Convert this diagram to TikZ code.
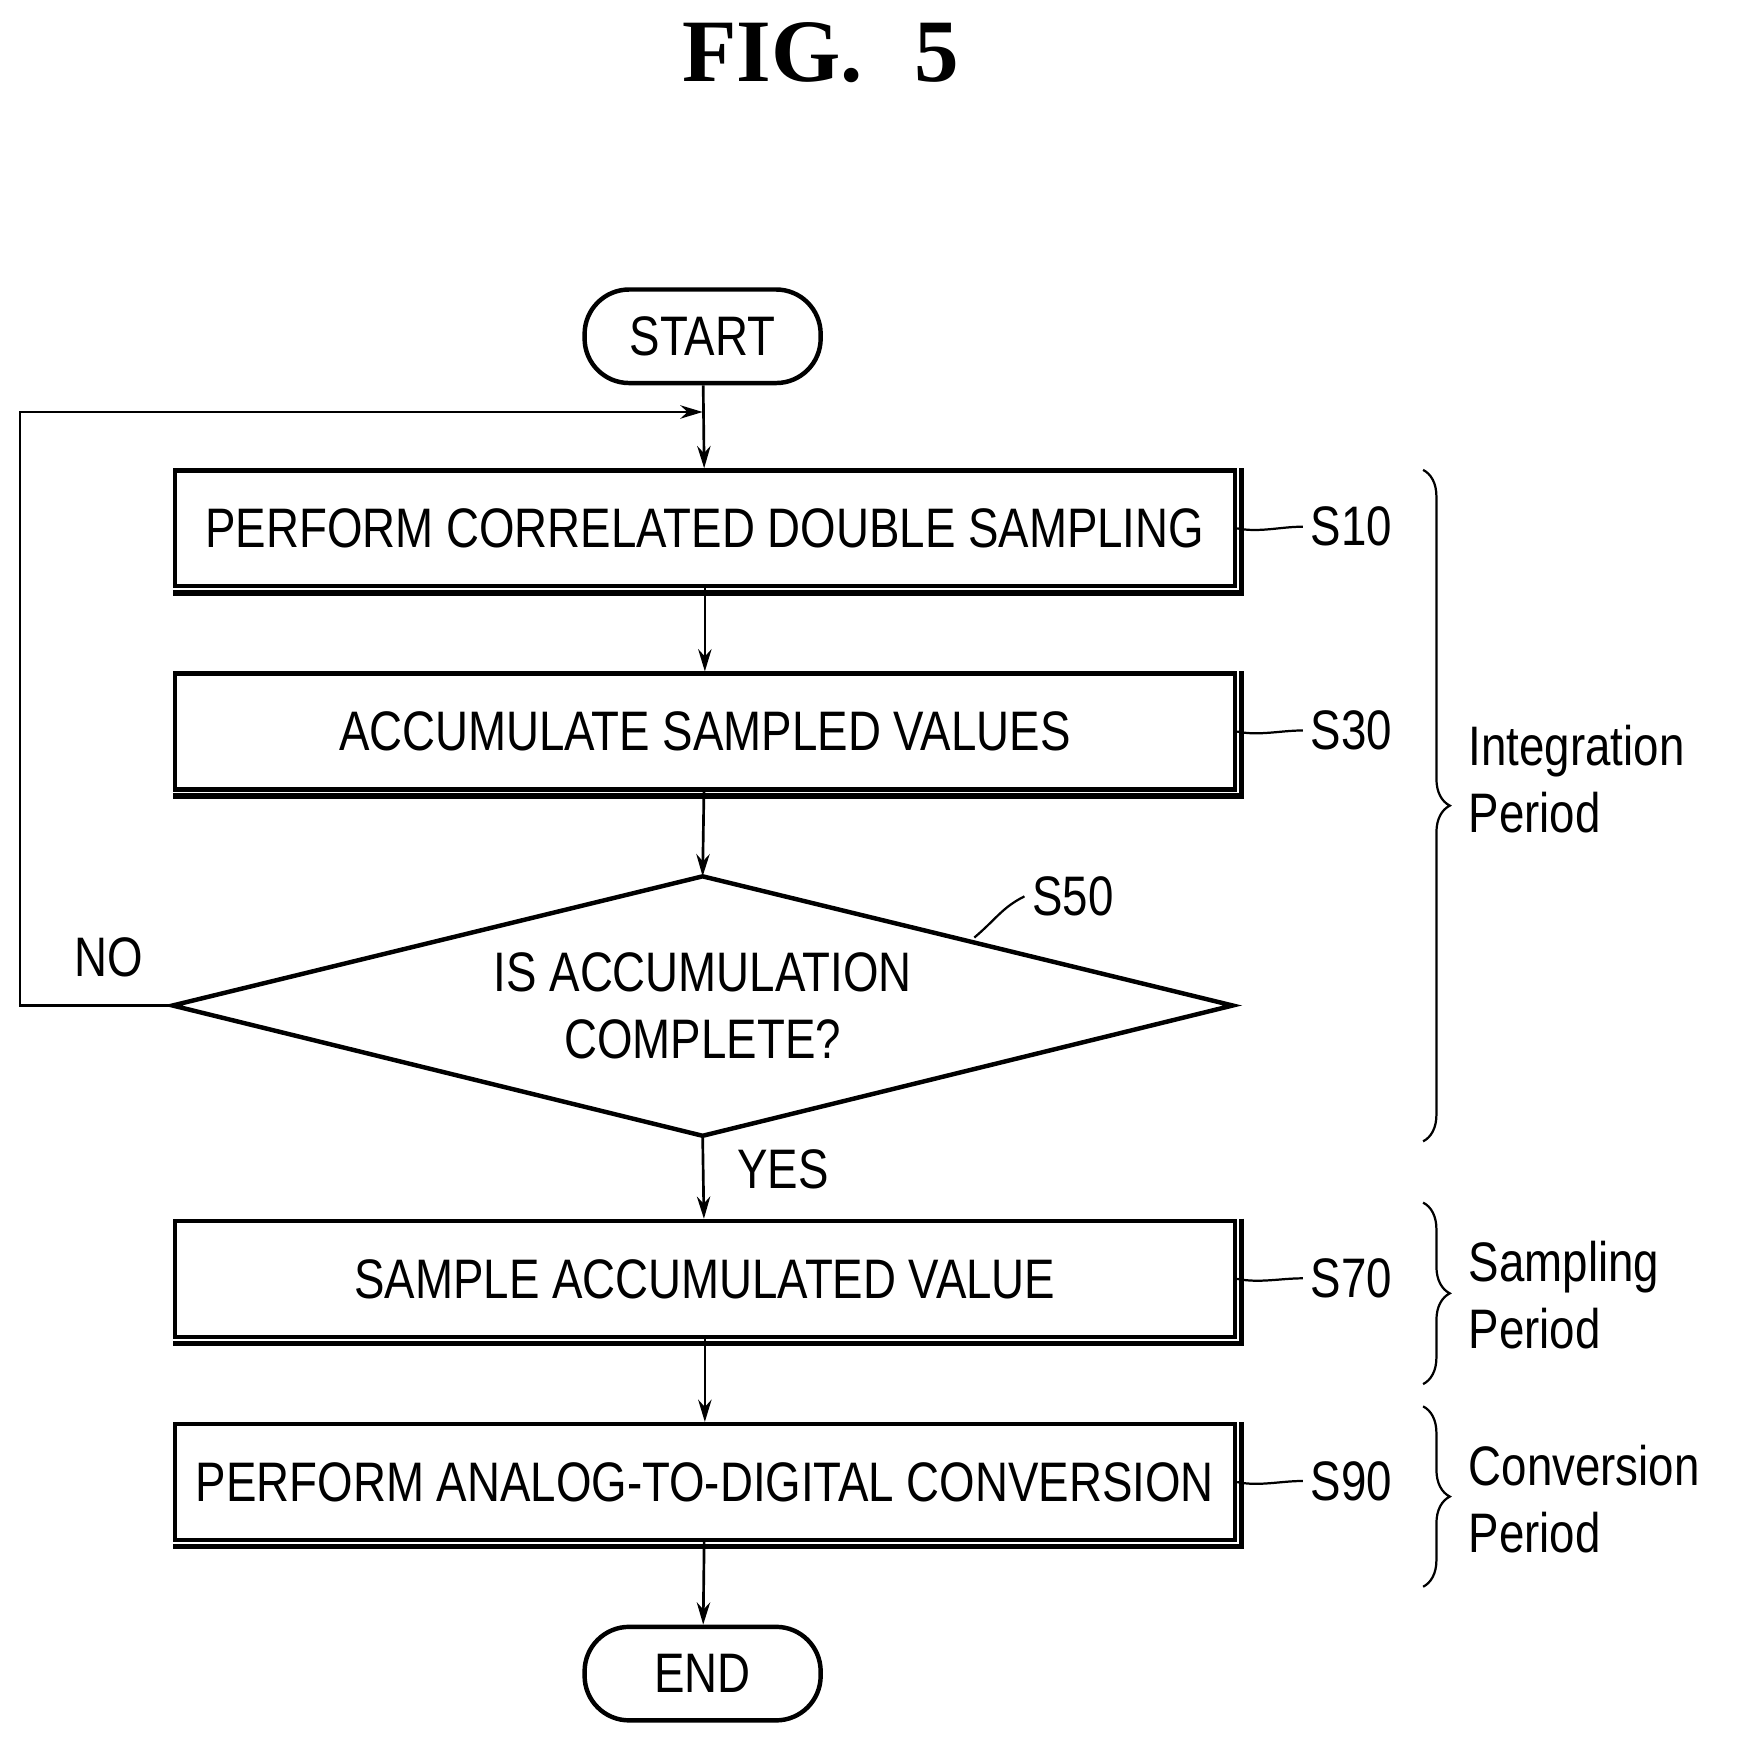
\documentclass[tikz,border=0pt]{standalone}
\usepackage{fontspec}
\setmainfont{Liberation Sans}[FakeStretch=0.82]
\newfontfamily\titlefont{Liberation Serif}
\usetikzlibrary{shapes.geometric,arrows.meta,decorations.pathreplacing}
\begin{document}
\begin{tikzpicture}[x=0.5pt,y=-0.5pt,
  txt/.style={font=\fontsize{25}{30}\selectfont},
  lab/.style={font=\fontsize{25}{30}\selectfont,anchor=west},
  line/.style={line width=1.2pt},
  arr/.style={line width=1.2pt,-{Stealth[length=10pt,width=6pt]}},
  box/.style={draw,line width=2pt,minimum width=476pt,minimum height=52pt,txt},
  term/.style={draw,line width=2pt,rounded corners=20pt,minimum width=106pt,minimum height=42pt,txt},
  lead/.style={line width=1pt}]
\useasboundingbox (0,0) rectangle (1560,1577);
\node[font=\titlefont\bfseries\fontsize{40}{44}\selectfont] (title) at (737,47) {FIG.\,\, 5};
\node[term] (start) at (631,302) {START};
\node[box] (s10) at (633,474.5) {PERFORM CORRELATED DOUBLE SAMPLING};
\node[box] (s30) at (633,657) {ACCUMULATE SAMPLED VALUES};
\coordinate (dl) at (155,903); \coordinate (dt) at (631,787);
\coordinate (dr) at (1107,903); \coordinate (db) at (631,1020);
\draw[line width=2pt] (dl)--(dt)--(dr)--(db)--cycle;
\node[txt,align=center] (s50) at (631,903) {IS ACCUMULATION\\COMPLETE?};
\node[box] (s70) at (633,1148.5) {SAMPLE ACCUMULATED VALUE};
\node[box] (s90) at (633,1331) {PERFORM ANALOG-TO-DIGITAL CONVERSION};
\node[term] (end) at (631,1503) {END};
% shadows
\foreach \n in {s10,s30,s70,s90}{
  \draw[line width=2.5pt] ([xshift=2pt]\n.north east)--([xshift=2pt,yshift=-2pt]\n.south east)--([yshift=-2pt]\n.south west);}
\draw[arr] (start)--(s10);
\draw[arr] (s10)--(s30);
\draw[arr] (s30)--(dt);
\draw[arr] (db)--(s70);
\draw[arr] (s70)--(s90);
\draw[arr] (s90)--(end);
\coordinate (lp) at (631,370);
\draw[arr] (dl)--(18,903)--(18,370)--(lp);
\node[lab] (no) at (60,860) {NO};
\node[lab] (yes) at (655,1050) {YES};
% step labels
\foreach \n/\t/\y in {s10/S10/473,s30/S30/656,s70/S70/1148,s90/S90/1330}{
  \node[lab] (l\t) at (1170,\y) {\t};
  \draw[lead] (\n.east) .. controls +(20,4) and +(-20,0) .. (l\t.west);}
\node[lab] (lS50) at (920,805) {S50};
\draw[lead] (875,842) .. controls (895,825) and (900,815) .. (lS50.west);
% braces
\draw[line width=1pt,decorate,decoration={brace,amplitude=12pt}] (1278,422)--(1278,1025);
\node[lab,align=left] (ip) at (1312,700) {Integration\\Period};
\draw[line width=1pt,decorate,decoration={brace,amplitude=12pt}] (1278,1080)--(1278,1243);
\node[lab,align=left] (sp) at (1312,1163) {Sampling\\Period};
\draw[line width=1pt,decorate,decoration={brace,amplitude=12pt}] (1278,1263)--(1278,1425);
\node[lab,align=left] (cp) at (1312,1346) {Conversion\\Period};
\end{tikzpicture}
\end{document}
